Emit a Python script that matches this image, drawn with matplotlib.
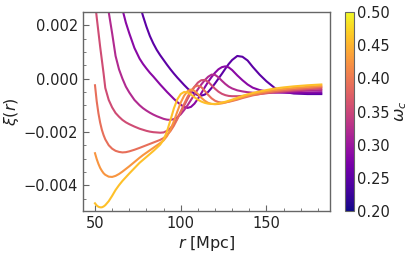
import numpy as np
import matplotlib
matplotlib.use("Agg")
import matplotlib.pyplot as plt
from matplotlib.ticker import MultipleLocator

# omega_c values of the plotted curves
omega_c = [0.25, 0.285, 0.32, 0.355, 0.39, 0.425, 0.46]

# r grid [Mpc]
r = [50, 51, 52, 53, 54, 55, 56, 58, 60, 62, 64, 66, 68, 70, 73, 76, 78, 80, 82, 84, 86,
     88, 90, 92, 94, 96, 98, 100, 102, 104, 106, 108, 110, 112, 114, 116, 118, 120, 122,
     124, 126, 128, 130, 133, 136, 139, 142, 146, 150, 155, 160, 166, 174, 182]

# xi(r) in units of 1e-3, one list per omega_c
xi_025 = [14.5, 13.8, 13.0, 12.3, 11.6, 11.0, 10.4, 9.3, 8.3, 7.3, 6.5, 5.7, 5.0, 4.4, 3.6,
          2.8, 2.35, 1.95, 1.6, 1.32, 1.08, 0.88, 0.70, 0.52, 0.35, 0.19, 0.04, -0.10,
          -0.24, -0.37, -0.48, -0.56, -0.62, -0.64, -0.60, -0.50, -0.35, -0.18, 0.00,
          0.18, 0.37, 0.55, 0.70, 0.85, 0.82, 0.68, 0.44, 0.15, -0.10, -0.36, -0.50,
          -0.56, -0.58, -0.58]
xi_0285 = [9.2, 8.7, 8.2, 7.7, 7.2, 6.8, 6.4, 5.6, 4.8, 4.1, 3.4, 2.6, 2.1, 1.7, 1.15,
           0.75, 0.55, 0.38, 0.22, 0.08, -0.07, -0.22, -0.36, -0.50, -0.63, -0.76, -0.88,
           -0.98, -1.06, -1.10, -1.06, -0.94, -0.76, -0.55, -0.33, -0.12, 0.06, 0.22,
           0.35, 0.43, 0.46, 0.42, 0.32, 0.12, -0.06, -0.22, -0.34, -0.43, -0.48, -0.52,
           -0.53, -0.53, -0.52, -0.51]
xi_032 = [6.8, 6.2, 5.6, 5.0, 4.5, 4.0, 3.5, 2.5, 1.7, 0.85, 0.35, 0.0, -0.30, -0.52,
          -0.80, -1.0, -1.11, -1.20, -1.28, -1.35, -1.41, -1.46, -1.51, -1.54, -1.55,
          -1.52, -1.45, -1.34, -1.18, -1.00, -0.80, -0.60, -0.40, -0.22, -0.06, 0.07,
          0.15, 0.14, 0.05, -0.08, -0.20, -0.30, -0.37, -0.44, -0.48, -0.51, -0.53,
          -0.54, -0.54, -0.52, -0.50, -0.48, -0.45, -0.43]
xi_0355 = [2.9, 2.3, 1.75, 1.2, 0.70, 0.2, -0.35, -0.80, -1.08, -1.29, -1.43, -1.55,
           -1.64, -1.71, -1.80, -1.88, -1.92, -1.96, -1.99, -2.01, -2.02, -2.03, -2.02,
           -1.96, -1.86, -1.70, -1.50, -1.26, -1.01, -0.76, -0.52, -0.31, -0.15, -0.06,
           -0.05, -0.12, -0.25, -0.38, -0.49, -0.57, -0.62, -0.65, -0.66, -0.66, -0.65,
           -0.63, -0.61, -0.58, -0.55, -0.51, -0.48, -0.44, -0.40, -0.37]
xi_039 = [-0.25, -0.85, -1.3, -1.65, -1.92, -2.12, -2.28, -2.50, -2.63, -2.71, -2.75,
          -2.77, -2.76, -2.73, -2.67, -2.60, -2.55, -2.50, -2.45, -2.40, -2.35, -2.30,
          -2.23, -2.12, -1.97, -1.77, -1.52, -1.24, -0.95, -0.68, -0.46, -0.31, -0.26,
          -0.32, -0.46, -0.61, -0.74, -0.83, -0.88, -0.90, -0.89, -0.87, -0.84, -0.79,
          -0.73, -0.68, -0.63, -0.58, -0.53, -0.48, -0.44, -0.40, -0.36, -0.32]
xi_0425 = [-2.80, -3.02, -3.2, -3.35, -3.46, -3.55, -3.61, -3.68, -3.69, -3.65, -3.58,
           -3.49, -3.39, -3.29, -3.13, -2.97, -2.87, -2.78, -2.69, -2.60, -2.51, -2.42,
           -2.32, -2.16, -1.92, -1.60, -1.24, -0.90, -0.64, -0.47, -0.41, -0.46, -0.58,
           -0.72, -0.83, -0.91, -0.95, -0.96, -0.95, -0.93, -0.90, -0.86, -0.82, -0.76,
           -0.70, -0.64, -0.59, -0.53, -0.48, -0.43, -0.39, -0.35, -0.31, -0.27]
xi_046 = [-4.68, -4.76, -4.81, -4.83, -4.83, -4.80, -4.75, -4.60, -4.40, -4.18, -4.00,
          -3.84, -3.70, -3.56, -3.36, -3.16, -3.05, -2.94, -2.83, -2.72, -2.60, -2.48,
          -2.30, -1.98, -1.56, -1.12, -0.78, -0.58, -0.50, -0.52, -0.60, -0.70, -0.79,
          -0.86, -0.91, -0.94, -0.95, -0.95, -0.93, -0.90, -0.87, -0.83, -0.79, -0.72,
          -0.65, -0.59, -0.54, -0.48, -0.43, -0.37, -0.33, -0.29, -0.25, -0.22]

curves = [xi_025, xi_0285, xi_032, xi_0355, xi_039, xi_0425, xi_046]

plt.rcParams['font.family'] = 'DejaVu Sans'
text_color = '#222222'
spine_color = '#666666'

fig = plt.figure(figsize=(4.16, 2.58), dpi=100)
ax = fig.add_axes([0.1995, 0.182, 0.5935, 0.7715])
cax = fig.add_axes([0.829, 0.182, 0.0216, 0.7715])

cmap = plt.get_cmap('plasma')
norm = matplotlib.colors.Normalize(vmin=0.2, vmax=0.5)

for w, xi in zip(omega_c, curves):
    ax.plot(r, np.array(xi) * 1e-3, color=cmap(norm(w)), lw=1.5)

ax.set_xlim(43, 187)
ax.set_ylim(-0.00497, 0.0025)
ax.xaxis.set_major_locator(MultipleLocator(50))
ax.xaxis.set_minor_locator(MultipleLocator(10))
ax.yaxis.set_major_locator(MultipleLocator(0.002))
ax.yaxis.set_minor_locator(MultipleLocator(0.0005))
ax.tick_params(which='both', direction='in', colors=spine_color, labelcolor=text_color,
               labelsize=10.5, top=False, right=False)
ax.tick_params(which='major', length=4)
ax.tick_params(which='minor', length=2.5)
for s in ax.spines.values():
    s.set_color(spine_color)
    s.set_linewidth(1.0)

ax.set_xlabel('$r$ [Mpc]', fontsize=11.5, color=text_color, labelpad=2)
ax.set_ylabel(r'$\xi(r)$', fontsize=11.5, color=text_color, labelpad=2)

sm = matplotlib.cm.ScalarMappable(norm=norm, cmap=cmap)
cb = fig.colorbar(sm, cax=cax)
cb.set_ticks([0.20, 0.25, 0.30, 0.35, 0.40, 0.45, 0.50])
cb.ax.tick_params(labelsize=10.5, labelcolor=text_color, length=0, pad=2)
cb.outline.set_edgecolor(spine_color)
cb.set_label(r'$\omega_c$', fontsize=11.5, color=text_color, labelpad=3)

fig.savefig('out.png', dpi=100)
